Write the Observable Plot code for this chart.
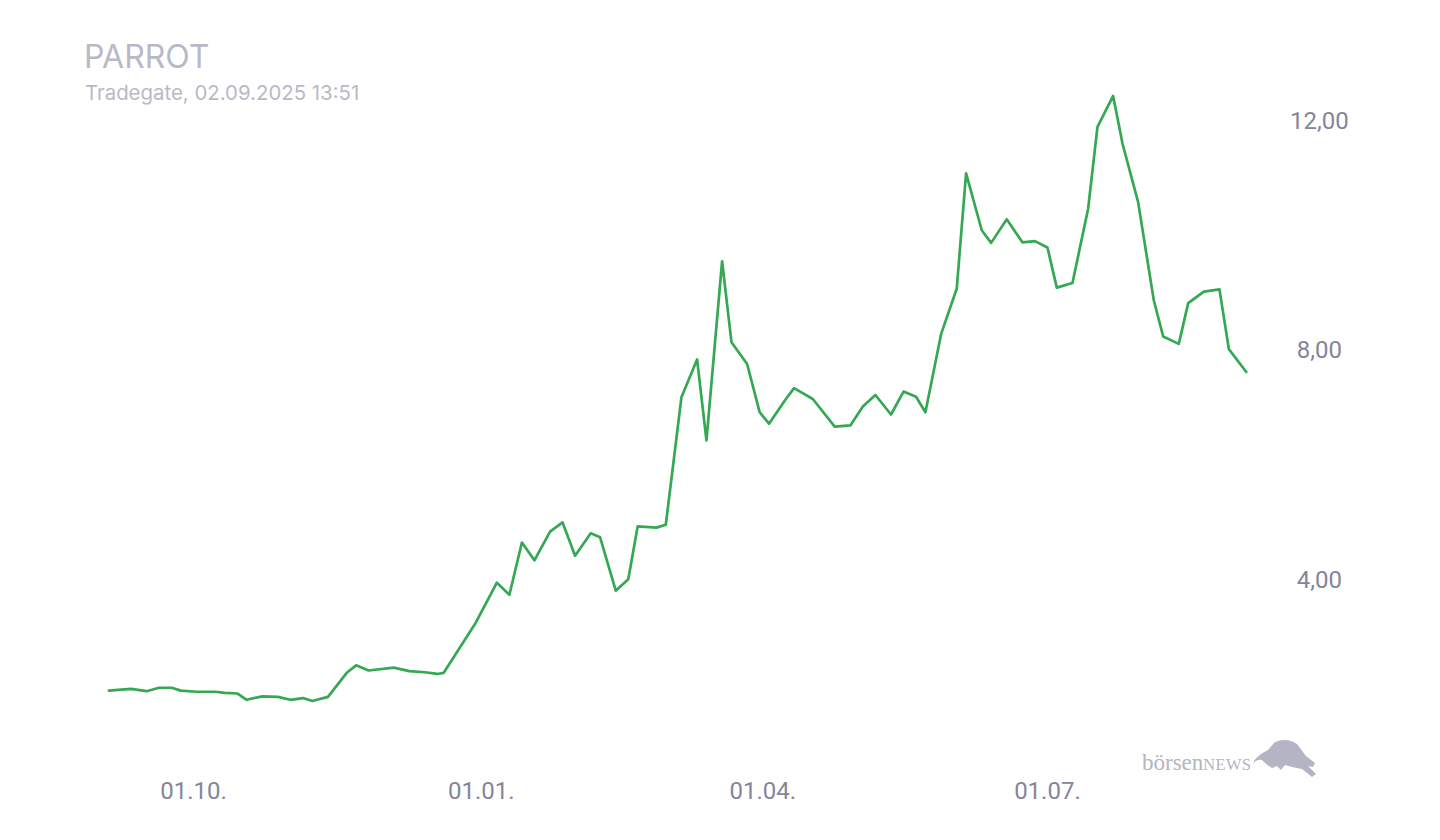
<!DOCTYPE html>
<html><head><meta charset="utf-8">
<script src="https://cdn.jsdelivr.net/npm/d3@7"></script>
<script src="https://cdn.jsdelivr.net/npm/@observablehq/plot@0.6"></script>
<style>
body{margin:0;background:#fff;}
#wrap{position:relative;width:1440px;height:840px;overflow:hidden;background:#fff;}
#title{position:absolute;left:84px;top:40.6px;font-family:Inter;font-size:32px;line-height:1;color:#b9b9c6;white-space:nowrap;}
#sub{position:absolute;left:85px;top:82.5px;font-family:Inter;font-size:20.4px;line-height:1;color:#b9b9c6;white-space:nowrap;}
#chart{position:absolute;left:0;top:0;}
#logo{position:absolute;left:1142px;top:751px;font-family:"Liberation Serif";font-size:23px;line-height:1;color:#b4b4c4;white-space:nowrap;}
#logo span{font-size:16.5px;letter-spacing:0.3px;}
#bull{position:absolute;left:0;top:0;}
</style></head>
<body>
<div id="wrap">
<div id="chart"></div>
<div id="title">PARROT</div>
<div id="sub">Tradegate, 02.09.2025 13:51</div>
<div id="logo">börsen<span>NEWS</span></div>
<svg id="bull" width="1440" height="840"><path d="M1253,763 C1256,757 1262,753 1268,750 L1274,743 C1280,739 1290,739 1297,744 L1306,756 L1315,763 L1313,767 L1308,766 L1316,774 L1312,777 L1302,769 L1292,767 L1285,765 L1281,770 L1277,766 L1272,768 L1266,764 L1262,760 C1258,759 1256,761 1253,763 Z" fill="#b4b4c4"/></svg>
</div>
<script>
const dates = ["2024-09-04","2024-09-11","2024-09-16","2024-09-20","2024-09-24","2024-09-27","2024-10-02","2024-10-08","2024-10-11","2024-10-15","2024-10-18","2024-10-23","2024-10-28","2024-11-01","2024-11-05","2024-11-08","2024-11-13","2024-11-19","2024-11-22","2024-11-26","2024-12-04","2024-12-09","2024-12-14","2024-12-18","2024-12-20","2024-12-30","2025-01-06","2025-01-10","2025-01-14","2025-01-18","2025-01-23","2025-01-27","2025-01-31","2025-02-05","2025-02-08","2025-02-13","2025-02-17","2025-02-20","2025-02-26","2025-03-01","2025-03-06","2025-03-11","2025-03-14","2025-03-19","2025-03-22","2025-03-27","2025-03-31","2025-04-03","2025-04-08","2025-04-11","2025-04-17","2025-04-24","2025-04-29","2025-05-03","2025-05-07","2025-05-12","2025-05-16","2025-05-20","2025-05-23","2025-05-28","2025-06-02","2025-06-05","2025-06-10","2025-06-13","2025-06-18","2025-06-23","2025-06-27","2025-07-01","2025-07-04","2025-07-09","2025-07-14","2025-07-17","2025-07-22","2025-07-25","2025-07-30","2025-08-04","2025-08-07","2025-08-12","2025-08-15","2025-08-20","2025-08-25","2025-08-28","2025-09-02T13:51Z"];
const prices = [2.08,2.11,2.07,2.13,2.13,2.08,2.06,2.06,2.04,2.03,1.92,1.98,1.97,1.92,1.95,1.90,1.97,2.39,2.52,2.43,2.48,2.42,2.40,2.37,2.39,3.24,3.96,3.75,4.66,4.35,4.85,5.01,4.43,4.82,4.75,3.82,4.02,4.94,4.92,4.97,7.19,7.85,6.44,9.56,8.15,7.77,6.93,6.73,7.13,7.35,7.16,6.68,6.70,7.03,7.23,6.89,7.29,7.20,6.93,8.29,9.08,11.09,10.10,9.88,10.29,9.89,9.91,9.80,9.10,9.18,10.47,11.90,12.44,11.61,10.59,8.88,8.25,8.12,8.83,9.03,9.07,8.03,7.63];
const yTicks = [4, 8, 12];
const xTicks = ["2024-10-01","2025-01-01","2025-04-01","2025-07-01"];

const data = dates.map((d, i) => ({date: new Date(d), price: prices[i]}));
const axisColor = "#85859a";

const chart = Plot.plot({
  width: 1440, height: 840,
  marginLeft: 108.5, marginRight: 194.2, marginTop: 80.5, marginBottom: 59.2,
  x: {type: "utc", domain: [new Date(dates[0]), new Date(dates[dates.length - 1])]},
  y: {domain: [0.5, 12.7]},
  style: {fontFamily: "Roboto", fontSize: "24px", color: axisColor, background: "transparent"},
  marks: [
    Plot.axisX(xTicks.map(d => new Date(d)), {tickSize: 0, tickPadding: 1, tickFormat: d3.utcFormat("%d.%m."), fontSize: 24, fill: axisColor, label: null}),
    Plot.axisY(yTicks, {anchor: "right", tickSize: 0, tickPadding: 0, dx: 73, textAnchor: "middle", tickFormat: d => d.toFixed(2).replace(".", ","), fontSize: 24, fill: axisColor, label: null}),
    Plot.line(data, {x: "date", y: "price", stroke: "#34a853", strokeWidth: 2.7})
  ]
});
document.getElementById("chart").appendChild(chart);
</script>
</body></html>
